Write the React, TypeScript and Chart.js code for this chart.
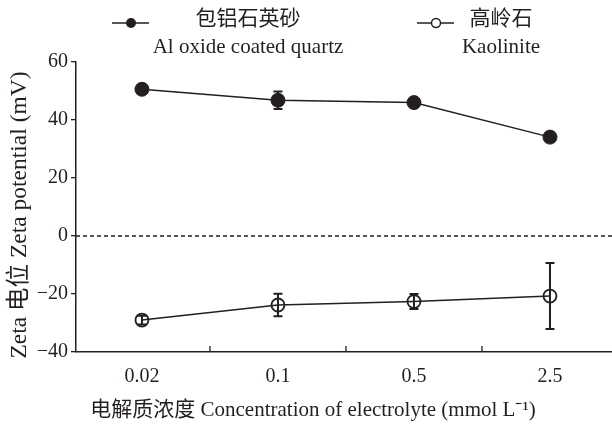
import React, { useEffect, useRef } from 'react';
import { Chart, registerables } from 'chart.js';

Chart.register(...registerables);

const categories = ['0.02', '0.1', '0.5', '2.5'];
const alQuartz = [50.6, 46.8, 46.0, 34.1];
const alQuartzErr = [1.0, 3.0, 1.0, 1.0];
const kaolinite = [-29.0, -23.8, -22.6, -20.7];
const kaoliniteErr = [1.5, 3.9, 2.6, 11.4];
const yTicks = [-40, -20, 0, 20, 40, 60];

const legendCn = ['包铝石英砂', '高岭石'];
const legendEn = ['Al oxide coated quartz', 'Kaolinite'];
const yTitle = 'Zeta 电位 Zeta potential (mV)';
const xTitle = '电解质浓度 Concentration of electrolyte (mmol L⁻¹)';

const INK = '#231f20';
const FONT = "'Liberation Serif', 'Noto Sans CJK SC', serif";

const errors = [alQuartzErr, kaoliniteErr];

const extrasPlugin = {
  id: 'extras',
  beforeDatasetsDraw(chart: any) {
    const { ctx, chartArea } = chart;
    const xs = chart.scales.x;
    const ys = chart.scales.y;
    ctx.save();
    const y0 = ys.getPixelForValue(0);
    ctx.strokeStyle = INK;
    ctx.lineWidth = 1.5;
    ctx.setLineDash([4, 3]);
    ctx.beginPath();
    ctx.moveTo(chartArea.left, y0);
    ctx.lineTo(chartArea.right, y0);
    ctx.stroke();
    ctx.setLineDash([]);
    ctx.lineWidth = 1.3;
    for (let i = 0; i < categories.length - 1; i++) {
      const x = xs.getPixelForValue(i + 0.5);
      ctx.beginPath();
      ctx.moveTo(x, chartArea.bottom);
      ctx.lineTo(x, chartArea.bottom - 6);
      ctx.stroke();
    }
    ctx.lineWidth = 2;
    chart.data.datasets.forEach((ds: any, di: number) => {
      const err = errors[di];
      ds.data.forEach((p: any, i: number) => {
        const x = xs.getPixelForValue(p.x);
        const yt = ys.getPixelForValue(p.y + err[i]);
        const yb = ys.getPixelForValue(p.y - err[i]);
        ctx.beginPath();
        ctx.moveTo(x, yt);
        ctx.lineTo(x, yb);
        ctx.moveTo(x - 4.5, yt);
        ctx.lineTo(x + 4.5, yt);
        ctx.moveTo(x - 4.5, yb);
        ctx.lineTo(x + 4.5, yb);
        ctx.stroke();
      });
    });
    ctx.restore();
  },
  afterDraw(chart: any) {
    const { ctx } = chart;
    ctx.save();
    ctx.fillStyle = INK;
    ctx.strokeStyle = INK;
    const legendX = [248, 501];
    const markerX = [131, 436];
    for (let k = 0; k < 2; k++) {
      ctx.lineWidth = 1.5;
      ctx.beginPath();
      ctx.moveTo(markerX[k] - 19, 23);
      ctx.lineTo(markerX[k] + 18, 23);
      ctx.stroke();
      ctx.beginPath();
      ctx.arc(markerX[k], 23, k === 0 ? 5 : 4.5, 0, Math.PI * 2);
      if (k === 0) {
        ctx.fill();
      } else {
        ctx.fillStyle = '#fff';
        ctx.fill();
        ctx.fillStyle = INK;
        ctx.stroke();
      }
      ctx.textAlign = 'center';
      ctx.textBaseline = 'middle';
      ctx.font = `21px ${FONT}`;
      ctx.fillText(legendCn[k], legendX[k], 19);
      ctx.font = `21px ${FONT}`;
      ctx.fillText(legendEn[k], legendX[k], 47);
    }
    ctx.font = `21px ${FONT}`;
    ctx.textAlign = 'center';
    ctx.textBaseline = 'middle';
    ctx.fillText(xTitle, 313, 410);
    ctx.translate(20, 215);
    ctx.rotate(-Math.PI / 2);
    ctx.font = `23.5px ${FONT}`;
    ctx.fillText(yTitle, 0, 0);
    ctx.restore();
  },
};

export default function App() {
  const ref = useRef<HTMLCanvasElement | null>(null);
  useEffect(() => {
    if (!ref.current) return;
    const chart = new Chart(ref.current, {
      type: 'line',
      data: {
        datasets: [
          {
            label: legendEn[0],
            data: alQuartz.map((v, i) => ({ x: i, y: v })),
            borderColor: INK,
            backgroundColor: INK,
            borderWidth: 1.5,
            pointRadius: 7,
            pointBackgroundColor: INK,
            pointBorderColor: INK,
            pointBorderWidth: 1,
          },
          {
            label: legendEn[1],
            data: kaolinite.map((v, i) => ({ x: i, y: v })),
            borderColor: INK,
            backgroundColor: 'rgba(0,0,0,0)',
            borderWidth: 1.5,
            pointRadius: 6.5,
            pointBackgroundColor: 'rgba(0,0,0,0)',
            pointBorderColor: INK,
            pointBorderWidth: 1.8,
          },
        ],
      },
      options: {
        animation: false,
        responsive: false,
        layout: { autoPadding: false, padding: { top: 62, left: 0, right: 0, bottom: 0 } },
        plugins: { legend: { display: false }, tooltip: { enabled: false } },
        scales: {
          x: {
            type: 'linear',
            min: -0.485,
            max: 3.456,
            afterBuildTicks: (s: any) => {
              s.ticks = categories.map((_, i) => ({ value: i }));
            },
            afterFit: (s: any) => {
              s.height = 76;
              s.paddingLeft = 0;
              s.paddingRight = 0;
            },
            ticks: {
              callback: (v: any) => categories[v] ?? '',
              font: { family: FONT, size: 20 },
              color: INK,
              padding: 13,
              maxRotation: 0,
            },
            grid: { drawOnChartArea: false, drawTicks: false, display: false },
            border: { display: true, color: INK, width: 1.5 },
          },
          y: {
            min: -40,
            max: 60,
            afterBuildTicks: (s: any) => {
              s.ticks = yTicks.map((v) => ({ value: v }));
            },
            afterFit: (s: any) => {
              s.width = 76;
            },
            ticks: {
              callback: (v: any) => String(v).replace('-', '\u2212'),
              font: { family: FONT, size: 20 },
              color: INK,
              padding: 3,
            },
            grid: { drawOnChartArea: false, drawTicks: true, tickLength: 5, color: INK, lineWidth: 1.3 },
            border: { display: true, color: INK, width: 1.5 },
          },
        },
      },
      plugins: [extrasPlugin],
    });
    return () => chart.destroy();
  }, []);
  return (
    <div style={{ position: 'fixed', left: 0, top: 0, width: 612, height: 428, background: '#fff' }}>
      <canvas ref={ref} width={612} height={428} style={{ width: 612, height: 428, display: 'block' }} />
    </div>
  );
}
